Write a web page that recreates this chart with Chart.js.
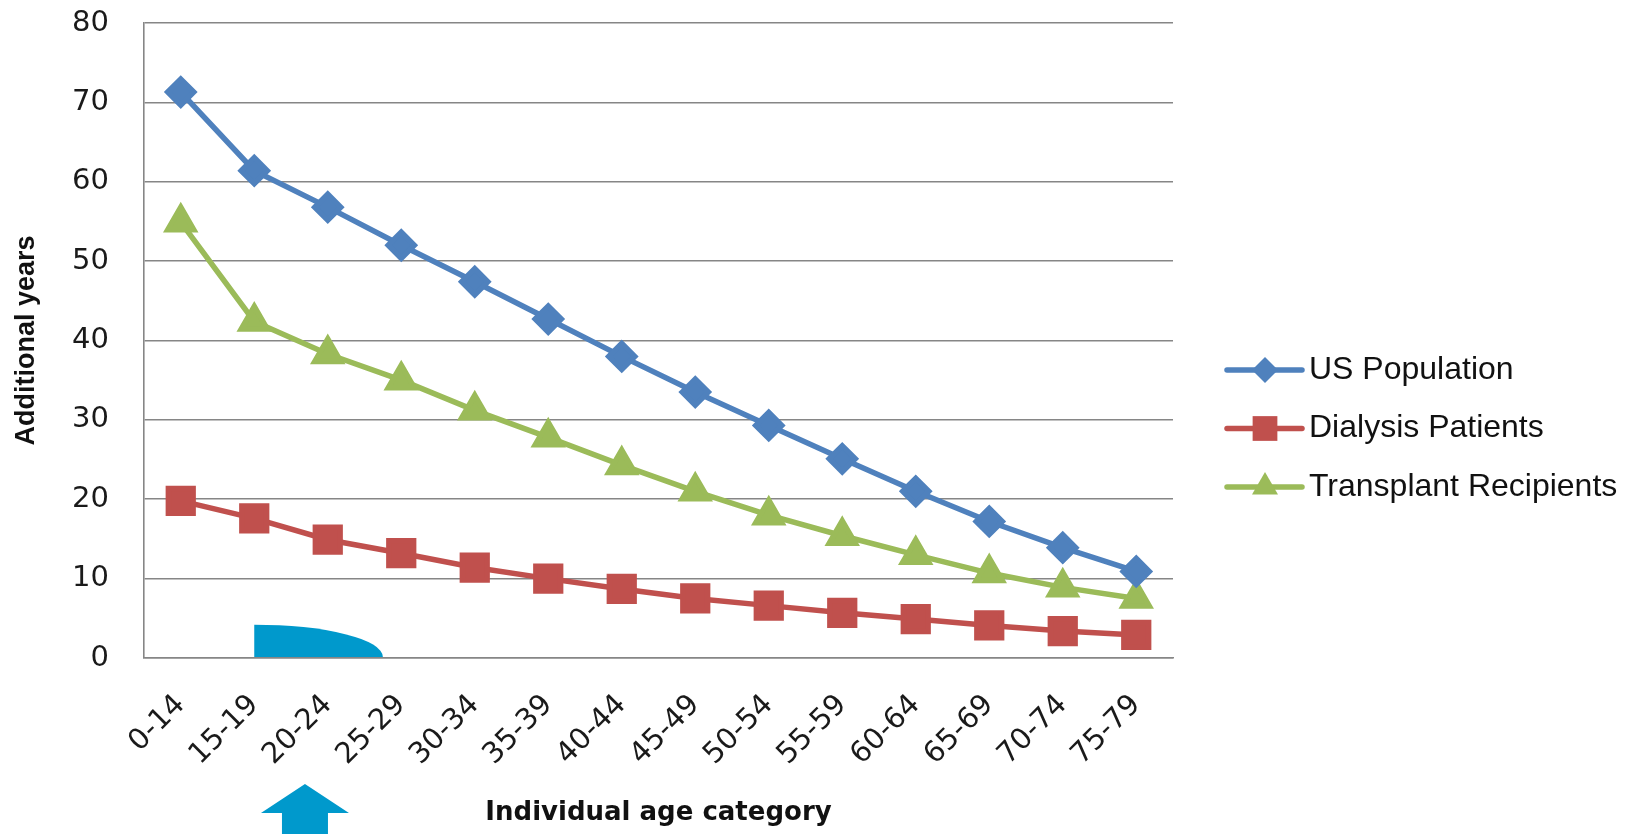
<!DOCTYPE html>
<html lang="en">
<head>
  <meta charset="UTF-8" />
  <title>Additional years by age category</title>
  <script src="https://cdn.jsdelivr.net/npm/chart.js"></script>
  <style>
    html, body {
      margin: 0;
      padding: 0;
      background: #ffffff;
    }
    #chartBox {
      width: 1642px;
      height: 834px;
    }
  </style>
</head>
<body>
  <div id="chartBox">
    <canvas id="lifeChart" width="1642" height="834"></canvas>
  </div>

  <script>
    // age categories on the x axis
    const ageGroups = ['0-14', '15-19', '20-24', '25-29', '30-34', '35-39', '40-44',
      '45-49', '50-54', '55-59', '60-64', '65-69', '70-74', '75-79'];

    // additional years
    const usPopulation = [71.3, 61.4, 56.8, 52.0, 47.4, 42.7, 38.0, 33.5, 29.3, 25.1, 21.0, 17.2, 13.9, 10.9];
    const dialysisPatients = [19.8, 17.6, 14.9, 13.2, 11.4, 10.0, 8.7, 7.5, 6.6, 5.7, 4.9, 4.1, 3.4, 2.9];
    const transplantRecipients = [54.9, 42.4, 38.3, 35.0, 31.2, 27.8, 24.3, 21.0, 18.0, 15.4, 13.0, 10.7, 8.9, 7.5];

    const yTicks = [0, 10, 20, 30, 40, 50, 60, 70, 80];

    const tickFont = { family: "'DejaVu Sans', sans-serif", size: 29 };
    const accent = '#0099cc';

    // legend drawn on the right, vertically where the original sits
    const sideLegend = {
      id: 'sideLegend',
      afterDraw(chart) {
        const ctx = chart.ctx;
        const x0 = chart.chartArea.right + 54;
        ctx.save();
        chart.data.datasets.forEach((ds, i) => {
          const y = 370 + i * 58.5;
          ctx.strokeStyle = ds.borderColor;
          ctx.lineWidth = 5.5;
          ctx.lineCap = 'round';
          ctx.beginPath();
          ctx.moveTo(x0, y);
          ctx.lineTo(x0 + 75, y);
          ctx.stroke();
          ctx.fillStyle = ds.backgroundColor;
          Chart.helpers.drawPoint(ctx, {
            pointStyle: ds.pointStyle,
            radius: ds.pointRadius,
            rotation: 0,
            borderWidth: 0
          }, x0 + 38, y);
          ctx.fillStyle = '#111';
          ctx.font = "32px 'Liberation Sans', Arial, sans-serif";
          ctx.textAlign = 'left';
          ctx.textBaseline = 'middle';
          ctx.fillText(ds.label, x0 + 82, y);
        });
        ctx.restore();
      }
    };

    // blue callout shape on the plot and the arrow under the axis
    const callouts = {
      id: 'callouts',
      afterDatasetsDraw(chart) {
        const { ctx, scales: { x, y }, chartArea } = chart;
        ctx.save();
        ctx.fillStyle = accent;

        const left = x.getPixelForValue(1);
        const right = x.getPixelForValue(2.75);
        const base = y.getPixelForValue(0) - 1;
        const top = y.getPixelForValue(4.2);
        ctx.beginPath();
        ctx.moveTo(left, base);
        ctx.lineTo(left, top);
        ctx.ellipse(left, base, right - left, base - top, 0, -Math.PI / 2, 0, false);
        ctx.closePath();
        ctx.fill();

        const cx = x.getPixelForValue(1.69);
        const tip = chartArea.bottom + 126;
        const neck = chartArea.bottom + 155;
        ctx.beginPath();
        ctx.moveTo(cx, tip);
        ctx.lineTo(cx + 44, neck);
        ctx.lineTo(cx + 23, neck);
        ctx.lineTo(cx + 23, chart.height);
        ctx.lineTo(cx - 23, chart.height);
        ctx.lineTo(cx - 23, neck);
        ctx.lineTo(cx - 44, neck);
        ctx.closePath();
        ctx.fill();
        ctx.restore();
      }
    };

    new Chart(document.getElementById('lifeChart'), {
      type: 'line',
      data: {
        labels: ageGroups,
        datasets: [
          {
            label: 'US Population',
            data: usPopulation,
            borderColor: '#4f81bd',
            backgroundColor: '#4f81bd',
            borderWidth: 5.5,
            pointStyle: 'rectRot',
            pointRadius: 13,
            tension: 0
          },
          {
            label: 'Dialysis Patients',
            data: dialysisPatients,
            borderColor: '#c0504d',
            backgroundColor: '#c0504d',
            borderWidth: 5.5,
            pointStyle: 'rect',
            pointRadius: 17.5,
            tension: 0
          },
          {
            label: 'Transplant Recipients',
            data: transplantRecipients,
            borderColor: '#9bbb59',
            backgroundColor: '#9bbb59',
            borderWidth: 5.5,
            pointStyle: 'triangle',
            pointRadius: 15,
            tension: 0
          }
        ]
      },
      options: {
        responsive: false,
        animation: false,
        layout: {
          padding: { top: 19, right: 469, bottom: 0, left: 0 }
        },
        plugins: {
          legend: { display: false },
          tooltip: { enabled: false }
        },
        scales: {
          x: {
            offset: true,
            grid: { display: false, drawTicks: false },
            border: { display: true, color: '#868686', width: 1.6 },
            ticks: {
              color: '#1a1a1a',
              font: tickFont,
              minRotation: 45,
              maxRotation: 45,
              padding: 30,
              autoSkip: false
            },
            title: {
              display: true,
              text: 'Individual age category',
              color: '#111',
              font: { family: "'DejaVu Sans', sans-serif", size: 26, weight: 'bold' },
              padding: { top: 0, bottom: 5 }
            },
            afterFit(scale) { scale.height = 176; }
          },
          y: {
            min: 0,
            max: 80,
            afterBuildTicks(scale) {
              scale.ticks = yTicks.map(v => ({ value: v }));
            },
            grid: { color: '#868686', lineWidth: 1.6, drawTicks: false },
            border: { display: true, color: '#868686', width: 1.6 },
            ticks: {
              color: '#1a1a1a',
              font: tickFont,
              padding: 35
            },
            title: {
              display: true,
              text: 'Additional years',
              color: '#111',
              font: { family: "'Liberation Sans', Arial, sans-serif", size: 27, weight: 'bold' },
              padding: { top: 10, bottom: 0 }
            },
            afterFit(scale) {
              scale.width = 144;
              scale.paddingTop = 0;
              scale.paddingBottom = 0;
            }
          }
        }
      },
      plugins: [callouts, sideLegend]
    });
  </script>
</body>
</html>
